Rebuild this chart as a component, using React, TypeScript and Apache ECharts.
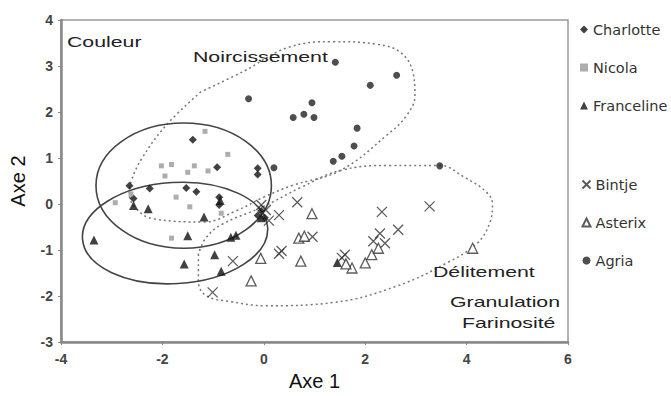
import React, { useEffect, useRef } from "react";
import * as echarts from "echarts";

const xRange = [-4, 6];
const yRange = [-3, 4];

const seriesNames = ["Charlotte", "Nicola", "Franceline", "Bintje", "Asterix", "Agria"];

const charlotte = [[-1.40,1.40],[-0.92,0.80],[-0.12,0.78],[-0.12,0.64],[-2.65,0.40],[-2.25,0.34],[-1.53,0.35],[-1.33,0.27],[-0.88,0.15],[-0.88,-0.02],[-2.57,0.12],[-0.05,-0.15],[0.02,-0.30],[-0.12,-0.25]];
const nicola = [[-1.16,1.58],[-0.71,1.08],[-2.02,0.83],[-1.82,0.86],[-1.95,0.61],[-1.50,0.69],[-1.37,0.83],[-1.10,0.72],[-1.73,0.15],[-1.46,-0.06],[-2.93,0.03],[-1.82,-0.74],[-0.84,-0.20],[-2.62,0.22]];
const franceline = [[-3.35,-0.78],[-2.57,-0.03],[-2.28,-0.10],[-1.18,-0.28],[-1.50,-0.69],[-1.57,-1.30],[-0.97,-1.10],[-0.65,-0.72],[-0.84,-1.46],[-0.86,0.08],[-0.05,-0.30],[-0.55,-0.68],[1.45,-1.27]];
const bintje = [[0.66,0.04],[0.30,-0.24],[0.04,-0.13],[0.96,-0.71],[0.35,-1.02],[-0.61,-1.24],[-1.01,-1.92],[1.54,-1.17],[1.60,-1.10],[2.33,-0.17],[3.27,-0.05],[2.65,-0.56],[2.29,-0.64],[2.16,-0.81],[2.39,-0.85],[-0.05,-0.02],[0.10,-0.36],[0.30,-1.08]];
const asterix = [[0.95,-0.21],[0.69,-0.74],[0.73,-1.24],[-0.06,-1.18],[-0.25,-1.67],[4.12,-0.96],[2.00,-1.28],[1.74,-1.39],[2.13,-1.10],[2.26,-0.96],[1.62,-1.30],[0.80,-0.70]];
const agria = [[-0.30,2.29],[1.41,3.08],[2.62,2.80],[2.10,2.58],[0.95,2.20],[0.58,1.88],[0.79,1.95],[0.99,1.88],[1.84,1.65],[1.78,1.26],[1.54,1.04],[1.37,0.93],[3.47,0.83],[0.20,0.79]];

// dotted contours
const noircissementContour = [[-1.24,2.44],[-1.92,1.72],[-2.40,1.00],[-2.61,0.51],[-2.65,0.20],[-2.50,-0.12],[-2.18,-0.32],[-1.18,-0.39],[-0.55,-0.15],[0.0,0.15],[0.55,0.40],[1.51,0.73],[2.43,1.50],[2.82,1.93],[2.98,2.36],[2.94,2.87],[2.69,3.30],[2.24,3.47],[1.37,3.53],[0.47,3.40],[-0.39,2.89],[-1.24,2.44]];
const delitementContour = [[-1.29,-1.09],[-1.29,-1.67],[-1.14,-1.99],[-0.65,-2.12],[0.04,-2.21],[1.37,-2.14],[2.63,-1.78],[3.61,-1.28],[4.20,-0.86],[4.45,-0.43],[4.51,0.0],[4.39,0.26],[3.96,0.58],[3.47,0.84],[2.49,0.84],[1.51,0.73],[0.73,0.36],[-0.02,-0.06],[-0.84,-0.45],[-1.15,-0.75],[-1.29,-1.09]];

// solid ellipses: [cx, cy, rx, ry, rotation]
const ellipses = [
  [-1.58, 0.40, 1.73, 1.36, 0],
  [-1.75, -0.63, 1.83, 1.1, 0.06],
];

const annotations = [
  { text: "Couleur", x: 67, y: 42 },
  { text: "Noircissement", x: 193, y: 57 },
  { text: "Délitement", x: 433, y: 272 },
  { text: "Granulation", x: 450, y: 302 },
  { text: "Farinosité", x: 462, y: 323 },
];

const FONT = "'Liberation Sans', Arial, sans-serif";
const crossPath = "path://M0,0L10,10M10,0L0,10";

export default function App() {
  const ref = useRef<HTMLDivElement>(null);
  useEffect(() => {
    document.body.style.margin = "0";
    const chart = echarts.init(ref.current!, null, { renderer: "svg" });
    const styles: any = {
      Charlotte: { symbol: "diamond", symbolSize: 8, itemStyle: { color: "#111" } },
      Nicola: { symbol: "rect", symbolSize: 5, itemStyle: { color: "#999" } },
      Franceline: { symbol: "triangle", symbolSize: 9, itemStyle: { color: "#111" } },
      Bintje: { symbol: crossPath, symbolSize: 10, itemStyle: { color: "none", borderColor: "#333", borderWidth: 1.3 } },
      Asterix: { symbol: "triangle", symbolSize: 10, itemStyle: { color: "#fff", borderColor: "#333", borderWidth: 1.3 } },
      Agria: { symbol: "circle", symbolSize: 7, itemStyle: { color: "#222" } },
    };
    const dataMap: any = { Charlotte: charlotte, Nicola: nicola, Franceline: franceline, Bintje: bintje, Asterix: asterix, Agria: agria };
    const legendCommon = {
      orient: "vertical",
      left: 575,
      itemWidth: 8,
      itemHeight: 8,
      itemGap: 23,
      textStyle: { fontFamily: "'DejaVu Sans', sans-serif", fontSize: 14.5, color: "#333", lineHeight: 14 },
      selectedMode: false,
    };
    const option: any = {
      animation: false,
      grid: { left: 60, right: 103, top: 20, bottom: 50, show: true, borderColor: "#999", borderWidth: 1.5 },
      legend: [
        { ...legendCommon, top: 17, data: seriesNames.slice(0, 3) },
        { ...legendCommon, top: 172, data: seriesNames.slice(3) },
      ],
      xAxis: {
        type: "value", min: xRange[0], max: xRange[1], interval: 2,
        name: "Axe 1", nameLocation: "middle", nameGap: 26,
        nameTextStyle: { fontFamily: FONT, fontSize: 20, color: "#111" },
        axisLine: { onZero: false, lineStyle: { color: "#888", width: 2.5 } },
        axisTick: { length: 3, lineStyle: { color: "#888" } },
        axisLabel: { fontFamily: FONT, fontSize: 14, fontWeight: "bold", color: "#444", margin: 10 },
        splitLine: { show: false },
      },
      yAxis: {
        type: "value", min: yRange[0], max: yRange[1], interval: 1,
        name: "Axe 2", nameLocation: "middle", nameGap: 33,
        nameTextStyle: { fontFamily: FONT, fontSize: 20, color: "#111" },
        axisLine: { show: true, onZero: false, lineStyle: { color: "#888", width: 2.5 } },
        axisTick: { show: true, length: 3, lineStyle: { color: "#888" } },
        axisLabel: { fontFamily: FONT, fontSize: 14, fontWeight: "bold", color: "#444", margin: 8 },
        splitLine: { show: false },
      },
      series: [
        { type: "line", name: "noircissement", data: noircissementContour, smooth: 0.4, symbol: "none", silent: true, z: 1,
          lineStyle: { color: "#777", width: 1.5, type: [2, 3] } },
        { type: "line", name: "delitement", data: delitementContour, smooth: 0.4, symbol: "none", silent: true, z: 1,
          lineStyle: { color: "#777", width: 1.5, type: [2, 3] } },
        ...seriesNames.map((n) => ({ type: "scatter", name: n, data: dataMap[n], z: 3, ...styles[n] })),
      ],
    };
    chart.setOption(option);
    const graphics: any[] = ellipses.map(([cx, cy, rx, ry, rot]) => {
      const c = chart.convertToPixel({ gridIndex: 0 }, [cx, cy]) as number[];
      const e = chart.convertToPixel({ gridIndex: 0 }, [cx + rx, cy + ry]) as number[];
      return {
        type: "ellipse", x: c[0], y: c[1], rotation: rot, z: 2, silent: true,
        shape: { cx: 0, cy: 0, rx: Math.abs(e[0] - c[0]), ry: Math.abs(e[1] - c[1]) },
        style: { fill: "none", stroke: "#444", lineWidth: 1.6 },
      };
    });
    annotations.forEach((a) => {
      graphics.push({
        type: "text", x: a.x, y: a.y, scaleX: 1.42, z: 5,
        style: { text: a.text, fontFamily: FONT, fontSize: 15, fill: "#222", verticalAlign: "middle", align: "left" },
      });
    });
    chart.setOption({ graphic: graphics });
    return () => chart.dispose();
  }, []);
  return <div ref={ref} style={{ width: 671, height: 396 }} />;
}
